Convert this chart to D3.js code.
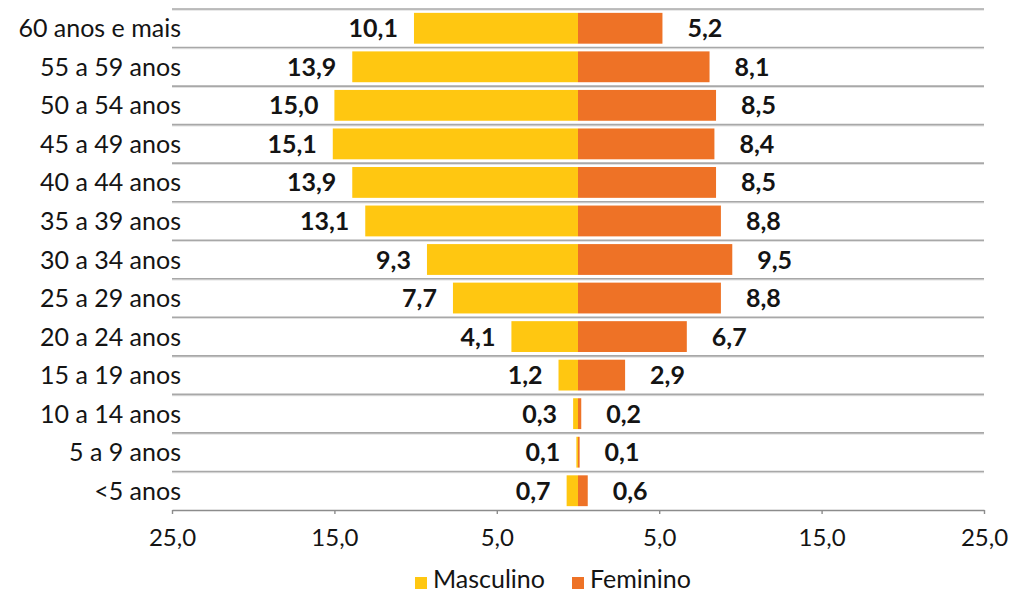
<!DOCTYPE html>
<html>
<head>
<meta charset="utf-8">
<script src="https://cdn.jsdelivr.net/npm/d3@7/dist/d3.min.js"></script>
<style>
  html, body { margin: 0; padding: 0; background: #fff; }
  svg { display: block; }
  text { font-family: Lato, "Noto Sans", sans-serif; fill: #141414; }
</style>
</head>
<body>
<svg id="chart" width="1014" height="594"></svg>
<script>
const categories = ["60 anos e mais", "55 a 59 anos", "50 a 54 anos", "45 a 49 anos", "40 a 44 anos",
  "35 a 39 anos", "30 a 34 anos", "25 a 29 anos", "20 a 24 anos", "15 a 19 anos",
  "10 a 14 anos", "5 a 9 anos", "<5 anos"];
const masculino = [10.1, 13.9, 15.0, 15.1, 13.9, 13.1, 9.3, 7.7, 4.1, 1.2, 0.3, 0.1, 0.7];
const feminino  = [5.2, 8.1, 8.5, 8.4, 8.5, 8.8, 9.5, 8.8, 6.7, 2.9, 0.2, 0.1, 0.6];
const tickValues = [-25, -15, -5, 5, 15, 25];
const seriesNames = ["Masculino", "Feminino"];

const colors = { Masculino: "#FFC711", Feminino: "#EE7226" };
const fmt = v => Math.abs(v).toFixed(1).replace(".", ",");

const svg = d3.select("#chart");
const x = d3.scaleLinear().domain([-25, 25]).range([172, 984]);
const y = d3.scaleBand().domain(categories).range([9, 510]).paddingInner(0.2).paddingOuter(0.1);
const step = y.step();
const top0 = 9;

// gridlines at band boundaries
const gridG = svg.append("g");
d3.range(categories.length).forEach(i => {
  const yy = top0 + i * step;
  gridG.append("line").attr("x1", x(-25)).attr("x2", x(25)).attr("y1", yy + 1.2).attr("y2", yy + 1.2)
    .attr("stroke", "#e2e2e2").attr("stroke-width", 1.2);
  gridG.append("line").attr("x1", x(-25)).attr("x2", x(25)).attr("y1", yy).attr("y2", yy)
    .attr("stroke", "#a8a8a8").attr("stroke-width", 1.6);
});

// bars
const rows = categories.map((c, i) => ({ c, m: masculino[i], f: feminino[i] }));
svg.append("g").selectAll("rect").data(rows).join("rect")
  .attr("x", d => x(-d.m)).attr("width", d => x(0) - x(-d.m))
  .attr("y", d => y(d.c)).attr("height", y.bandwidth())
  .attr("fill", colors.Masculino);
svg.append("g").selectAll("rect").data(rows).join("rect")
  .attr("x", x(0)).attr("width", d => x(d.f) - x(0))
  .attr("y", d => y(d.c)).attr("height", y.bandwidth())
  .attr("fill", colors.Feminino);

// value labels
svg.append("g").selectAll("text").data(rows).join("text")
  .attr("x", d => x(-d.m) - 16).attr("y", d => y(d.c) + y.bandwidth() / 2)
  .attr("dy", "0.36em").attr("text-anchor", "end")
  .style("font-weight", 700).style("font-size", "25px")
  .text(d => fmt(d.m));
svg.append("g").selectAll("text").data(rows).join("text")
  .attr("x", d => x(d.f) + 25).attr("y", d => y(d.c) + y.bandwidth() / 2)
  .attr("dy", "0.36em").attr("text-anchor", "start")
  .style("font-weight", 700).style("font-size", "25px")
  .text(d => fmt(d.f));

// category labels
svg.append("g").selectAll("text").data(categories).join("text")
  .attr("x", 181).attr("y", d => y(d) + y.bandwidth() / 2)
  .attr("dy", "0.36em").attr("text-anchor", "end")
  .style("font-size", "25px")
  .text(d => d);

// x axis
const axis = d3.axisBottom(x).tickValues(tickValues).tickFormat(fmt).tickSize(4).tickPadding(15).tickSizeOuter(0);
const ax = svg.append("g").attr("transform", "translate(0,510)").call(axis);
ax.select(".domain").attr("stroke", "#8c8c8c").attr("stroke-width", 1.6);
ax.selectAll(".tick line").attr("stroke", "#8c8c8c").attr("stroke-width", 1.4);
ax.selectAll(".tick text").style("font-family", "Lato, 'Noto Sans', sans-serif").style("font-size", "24px").attr("fill", "#141414");

// legend
const leg = svg.append("g");
const legItems = [{ name: seriesNames[0], x: 415 }, { name: seriesNames[1], x: 572 }];
legItems.forEach(it => {
  leg.append("rect").attr("x", it.x).attr("y", 577).attr("width", 12).attr("height", 12).attr("fill", colors[it.name]);
  leg.append("text").attr("x", it.x + 18).attr("y", 588).style("font-size", "25px").text(it.name);
});
</script>
</body>
</html>
